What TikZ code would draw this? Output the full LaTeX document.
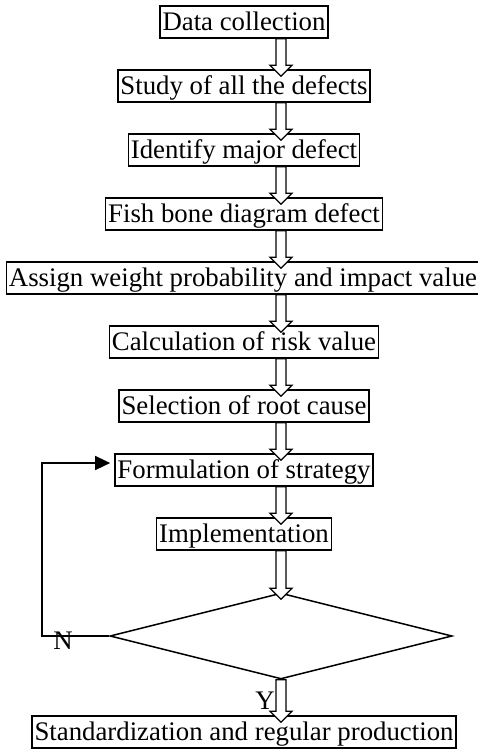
\documentclass[tikz,border=0pt]{standalone}
\usepackage{fontspec}
\setmainfont{Liberation Serif}
\usetikzlibrary{calc,shapes.geometric,arrows.meta}

% hollow block arrow from the bottom of one node to the top of the next
\newcommand{\blockarrow}[2]{%
  \path (#1.south -| col) coordinate (from) (#2.north -| col) ++(0,7) coordinate (to);
  \draw[hollowarrow] ($(from)+(-5,0)$) -- ($(to)+(-5,-11)$) -- ($(to)+(-11,-11)$) -- (to)
    -- ($(to)+(11,-11)$) -- ($(to)+(5,-11)$) -- ($(from)+(5,0)$) -- cycle;}

\begin{document}
\begin{tikzpicture}[
    x=1pt, y=-1pt,
    stepbox/.style={draw, line width=1.6pt, inner xsep=2.5pt, inner ysep=2.5pt,
      text height=22pt, text depth=5pt, font=\fontsize{26.8}{30}\selectfont},
    hollowarrow/.style={draw, fill=white, line width=1.3pt, line join=miter},
    fbline/.style={line width=1.5pt, -{Triangle[length=15pt,width=14pt]}},
    answer/.style={inner sep=0pt, font=\fontsize{26.8}{30}\selectfont}
]
    \useasboundingbox (0,0) rectangle (477,749);
    \coordinate (col) at (281,0);

    % Process boxes
    \node[stepbox] (data)   at (244,22)  {Data collection};
    \node[stepbox] (study)  at (244,86)  {Study of all the defects};
    \node[stepbox] (ident)  at (244,150) {Identify major defect};
    \node[stepbox] (fish)   at (244,214) {Fish bone diagram defect};
    \node[stepbox] (assign) at (243,278) {Assign weight probability and impact value};
    \node[stepbox] (calc)   at (244,342) {Calculation of risk value};
    \node[stepbox] (select) at (244,406) {Selection of root cause};
    \node[stepbox] (form)   at (244,470) {Formulation of strategy};
    \node[stepbox] (impl)   at (244,534) {Implementation};
    \node[draw, diamond, line width=1.5pt, inner sep=0pt,
          minimum width=342pt, minimum height=86pt] (check) at (281,636) {};
    \node[stepbox] (stand)  at (244,732) {Standardization and regular production};

    % Block arrows
    \blockarrow{data}{study}
    \blockarrow{study}{ident}
    \blockarrow{ident}{fish}
    \blockarrow{fish}{assign}
    \blockarrow{assign}{calc}
    \blockarrow{calc}{select}
    \blockarrow{select}{form}
    \blockarrow{form}{impl}
    \blockarrow{impl}{check}
    \blockarrow{check}{stand}

    % Feedback loop
    \coordinate (nturn) at (42,636);
    \coordinate (fbtop) at (42,463);
    \draw[fbline, shorten >=4pt] (check.west) -- (nturn) -- (fbtop) -- (form.west |- fbtop);

    % Decision labels
    \node[answer] (nlab) at (63,641) {N};
    \node[answer] (ylab) at (265,701) {Y};

\end{tikzpicture}
\end{document}
